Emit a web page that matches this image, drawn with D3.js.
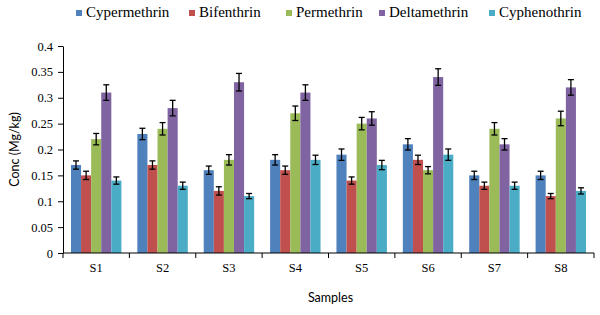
<!doctype html>
<html>
<head>
<meta charset="utf-8">
<title>Pyrethroid concentrations</title>
<script src="https://cdn.jsdelivr.net/npm/d3@7"></script>
<style>
  body { margin: 0; background: #fff; }
  .serif { font-family: "Liberation Serif", "Times New Roman", serif; }
  .axis path, .axis line { stroke: #000; }
</style>
</head>
<body>
<svg width="600" height="315"></svg>
<script>
var samples = ["S1", "S2", "S3", "S4", "S5", "S6", "S7", "S8"];
var series = ["Cypermethrin", "Bifenthrin", "Permethrin", "Deltamethrin", "Cyphenothrin"];
var colors = ["#4F81BD", "#C0504D", "#9BBB59", "#8064A2", "#4BACC6"];

// values per sample, in series order
var cypermethrin = [0.17, 0.23, 0.16, 0.18, 0.19, 0.21, 0.15, 0.15];
var bifenthrin   = [0.15, 0.17, 0.12, 0.16, 0.14, 0.18, 0.13, 0.11];
var permethrin   = [0.22, 0.24, 0.18, 0.27, 0.25, 0.16, 0.24, 0.26];
var deltamethrin = [0.31, 0.28, 0.33, 0.31, 0.26, 0.34, 0.21, 0.32];
var cyphenothrin = [0.14, 0.13, 0.11, 0.18, 0.17, 0.19, 0.13, 0.12];

// error bar half-widths
var errCyper = [0.008, 0.011, 0.008, 0.010, 0.011, 0.011, 0.008, 0.008];
var errBifen = [0.008, 0.008, 0.008, 0.008, 0.007, 0.009, 0.007, 0.005];
var errPerme = [0.011, 0.012, 0.010, 0.014, 0.012, 0.007, 0.012, 0.014];
var errDelta = [0.015, 0.015, 0.017, 0.015, 0.013, 0.016, 0.011, 0.015];
var errCyphe = [0.007, 0.007, 0.005, 0.009, 0.009, 0.011, 0.007, 0.006];

var yTicks = [0, 0.05, 0.1, 0.15, 0.2, 0.25, 0.3, 0.35, 0.4];

var values = [cypermethrin, bifenthrin, permethrin, deltamethrin, cyphenothrin];
var errors = [errCyper, errBifen, errPerme, errDelta, errCyphe];

var svg = d3.select("svg"),
    margin = { top: 46, right: 6, bottom: 62, left: 63 },
    width = +svg.attr("width") - margin.left - margin.right,
    height = +svg.attr("height") - margin.top - margin.bottom,
    g = svg.append("g").attr("transform", "translate(" + margin.left + "," + margin.top + ")");

var x0 = d3.scaleBand().domain(samples).range([0, width]).paddingInner(0.24).paddingOuter(0.12);
var x1 = d3.scaleBand().domain(series).range([0, x0.bandwidth()]);
var y = d3.scaleLinear().domain([0, 0.4]).range([height, 0]);

var rows = [];
samples.forEach(function(s, i) {
    series.forEach(function(n, j) {
        rows.push({ sample: s, name: n, k: j, v: values[j][i], e: errors[j][i] });
    });
});

g.selectAll("rect.bar")
    .data(rows)
    .enter().append("rect")
    .attr("class", "bar")
    .attr("x", function(d) { return x0(d.sample) + x1(d.name); })
    .attr("y", function(d) { return y(d.v); })
    .attr("width", x1.bandwidth())
    .attr("height", function(d) { return height - y(d.v); })
    .attr("fill", function(d) { return colors[d.k]; });

// error bars
var eb = g.selectAll("g.err")
    .data(rows)
    .enter().append("g")
    .attr("class", "err")
    .attr("stroke", "#000")
    .attr("stroke-width", 1.3)
    .attr("transform", function(d) { return "translate(" + (x0(d.sample) + x1(d.name) + x1.bandwidth() / 2) + ",0)"; });
eb.append("line")
    .attr("y1", function(d) { return y(d.v - d.e); })
    .attr("y2", function(d) { return y(d.v + d.e); });
eb.append("line")
    .attr("x1", -3).attr("x2", 3)
    .attr("y1", function(d) { return y(d.v + d.e); })
    .attr("y2", function(d) { return y(d.v + d.e); });
eb.append("line")
    .attr("x1", -3).attr("x2", 3)
    .attr("y1", function(d) { return y(d.v - d.e); })
    .attr("y2", function(d) { return y(d.v - d.e); });

// y axis
var ya = g.append("g")
    .attr("class", "axis")
    .call(d3.axisLeft(y).tickValues(yTicks).tickFormat(d3.format("")).tickSize(5).tickSizeOuter(0).tickPadding(5));
ya.attr("font-family", null).attr("font-size", null);
ya.selectAll("text").attr("class", "serif").style("font-size", "12.5px").attr("fill", "#000");

// x axis: ticks between categories
var xa = g.append("g")
    .attr("class", "axis")
    .attr("transform", "translate(0," + height + ")");
xa.append("line").attr("x1", 0).attr("x2", width).attr("stroke", "#000");
var bounds = d3.range(samples.length + 1).map(function(i) { return i * width / samples.length; });
xa.selectAll("line.tk")
    .data(bounds)
    .enter().append("line")
    .attr("class", "tk")
    .attr("x1", function(d) { return d; })
    .attr("x2", function(d) { return d; })
    .attr("y1", 0).attr("y2", 5)
    .attr("stroke", "#000");
xa.selectAll("text")
    .data(samples)
    .enter().append("text")
    .attr("class", "serif")
    .attr("x", function(d) { return x0(d) + x0.bandwidth() / 2; })
    .attr("y", 19)
    .attr("text-anchor", "middle")
    .style("font-size", "12.5px")
    .text(function(d) { return d; });

// axis titles
svg.append("text")
    .attr("transform", "translate(19," + (margin.top + height / 2) + ") rotate(-90)")
    .attr("text-anchor", "middle")
    .style("font-family", "Lato, 'Open Sans', sans-serif")
    .style("font-size", "12.5px")
    .text("Conc (Mg/kg)");
svg.append("text")
    .attr("x", margin.left + width / 2 + 2)
    .attr("y", 302)
    .attr("text-anchor", "middle")
    .style("font-family", "Lato, 'Open Sans', sans-serif")
    .style("font-size", "12.5px")
    .text("Samples");

// legend
var legendX = [76, 189, 286, 379, 489];
var lg = svg.selectAll("g.legend")
    .data(series)
    .enter().append("g")
    .attr("class", "legend")
    .attr("transform", function(d, i) { return "translate(" + legendX[i] + ",17)"; });
lg.append("rect")
    .attr("x", 0).attr("y", -7)
    .attr("width", 6).attr("height", 6)
    .attr("fill", function(d, i) { return colors[i]; });
lg.append("text")
    .attr("class", "serif")
    .attr("x", 10).attr("y", 0)
    .style("font-size", "15px")
    .text(function(d) { return d; });
</script>
</body>
</html>
